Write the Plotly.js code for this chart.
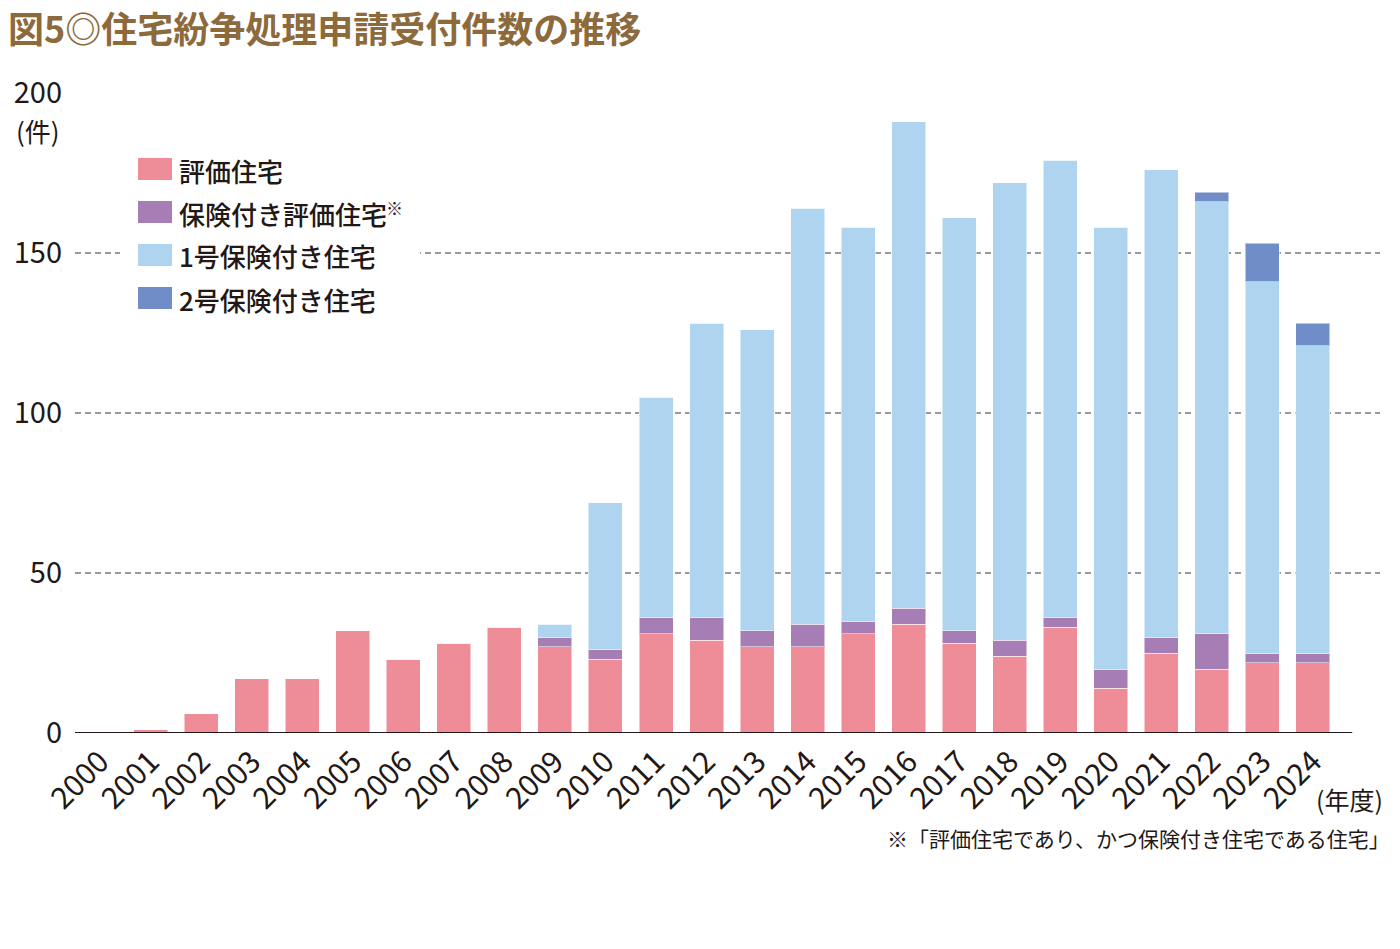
<!DOCTYPE html>
<html>
<head>
<meta charset="utf-8">
<script src="https://cdn.plot.ly/plotly-3.0.1.min.js"></script>
<style>
html,body{margin:0;padding:0;background:#fff;}
#chart{width:1400px;height:949px;}
</style>
</head>
<body>
<div id="chart"></div>
<script>
const years = ["2000","2001","2002","2003","2004","2005","2006","2007","2008","2009","2010","2011","2012","2013","2014","2015","2016","2017","2018","2019","2020","2021","2022","2023","2024"];
const seriesNames = ["評価住宅", "保険付き評価住宅", "1号保険付き住宅", "2号保険付き住宅"];
const hyoka      = [0,1,6,17,17,32,23,28,33,27,23,31,29,27,27,31,34,28,24,33,14,25,20,22,22];
const hokenHyoka = [0,0,0,0,0,0,0,0,0,3,3,5,7,5,7,4,5,4,5,3,6,5,11,3,3];
const gou1       = [0,0,0,0,0,0,0,0,0,4,46,69,92,94,130,123,152,129,143,143,138,146,135,116,96];
const gou2       = [0,0,0,0,0,0,0,0,0,0,0,0,0,0,0,0,0,0,0,0,0,0,3,12,7];
const yTicks = [0,50,100,150,200];
const colors = ["#EE8D98", "#A67DB5", "#AFD4EF", "#718DC7"];

const font = "'Noto Sans CJK JP', 'Noto Sans', sans-serif";
const ink = "#231815";

const allSeries = [hyoka, hokenHyoka, gou1, gou2];
const traces = allSeries.map((vals, i) => ({
  type: "bar",
  x: years,
  y: vals,
  name: seriesNames[i],
  marker: {color: colors[i], line: {color: "rgba(255,255,255,0.5)", width: 1}},
  showlegend: false,
  hoverinfo: "x+y+name"
}));

// plot area in pixels: x 75..1380, y 93..733
const L = 75, R = 1380, T = 93, B = 733;
const px = v => (v - L) / (R - L);
const py = v => (B - v) / (B - T);

const shapes = [];
const annotations = [];

// white backing to interrupt gridline behind legend
shapes.push({type: "rect", xref: "paper", yref: "paper", x0: px(120), x1: px(420), y0: py(262), y1: py(242), fillcolor: "#fff", line: {width: 0}, layer: "above"});

// custom legend
const legendY = [169, 212, 255, 298];
seriesNames.forEach((n, i) => {
  shapes.push({type: "rect", xref: "paper", yref: "paper",
    x0: px(138), x1: px(172), y0: py(legendY[i] + 11), y1: py(legendY[i] - 11),
    fillcolor: colors[i], line: {width: 0}, layer: "above"});
  annotations.push({xref: "paper", yref: "paper", x: px(177), y: py(legendY[i] + 1),
    xanchor: "left", yanchor: "middle", showarrow: false,
    text: n,
    font: {family: font, size: 26, color: ink, weight: 500}});
});
annotations.push({xref: "paper", yref: "paper", x: px(384), y: py(207), xanchor: "left", yanchor: "middle", showarrow: false,
  text: "※", font: {family: font, size: 17, color: ink}});

// baseline
shapes.push({type: "line", xref: "x", yref: "y", x0: -0.5, x1: 24.78, y0: 0, y1: 0, line: {color: ink, width: 2}, layer: "above"});

annotations.push({xref: "paper", yref: "paper", x: px(38), y: py(130), xanchor: "center", yanchor: "middle", showarrow: false, text: "(件)", font: {family: font, size: 26, color: ink}});
annotations.push({xref: "paper", yref: "paper", x: px(1385), y: py(799), xanchor: "right", yanchor: "middle", showarrow: false, text: "(年度)", font: {family: font, size: 25, color: ink}});
annotations.push({xref: "paper", yref: "paper", x: px(1392), y: py(838), xanchor: "right", yanchor: "middle", showarrow: false, text: "※「評価住宅であり、かつ保険付き住宅である住宅」", font: {family: font, size: 21, color: ink}});

const layout = {
  width: 1400, height: 949,
  margin: {l: L, r: 1400 - R, t: T, b: 949 - B, pad: 0},
  paper_bgcolor: "#fff", plot_bgcolor: "#fff",
  barmode: "stack",
  bargap: 0.327,
  title: {text: "図5◎住宅紛争処理申請受付件数の推移", x: 8/1400, xref: "container", xanchor: "left", y: 1 - 30/949, yref: "container", yanchor: "middle",
    font: {family: font, size: 36, color: "#8C6A3C", weight: "bold"}},
  xaxis: {type: "category", range: [-0.5, 25.33], showgrid: false, zeroline: false, showline: false, ticks: "",
    tickangle: -45, tickfont: {family: font, size: 30, color: ink}, ticklabelstandoff: 4, fixedrange: true},
  yaxis: {range: [0, 200], tickvals: yTicks, ticktext: yTicks.map(String), showgrid: true, gridcolor: "#9a9a9a", gridwidth: 1.5, griddash: "6px,4px",
    zeroline: true, zerolinecolor: "#fff", zerolinewidth: 1, showline: false, ticks: "", ticklabelstandoff: 12,
    tickfont: {family: font, size: 29, color: ink}, fixedrange: true},
  shapes: shapes,
  annotations: annotations,
  showlegend: false
};

Plotly.newPlot("chart", traces, layout, {displayModeBar: false, staticPlot: true});
</script>
</body>
</html>
